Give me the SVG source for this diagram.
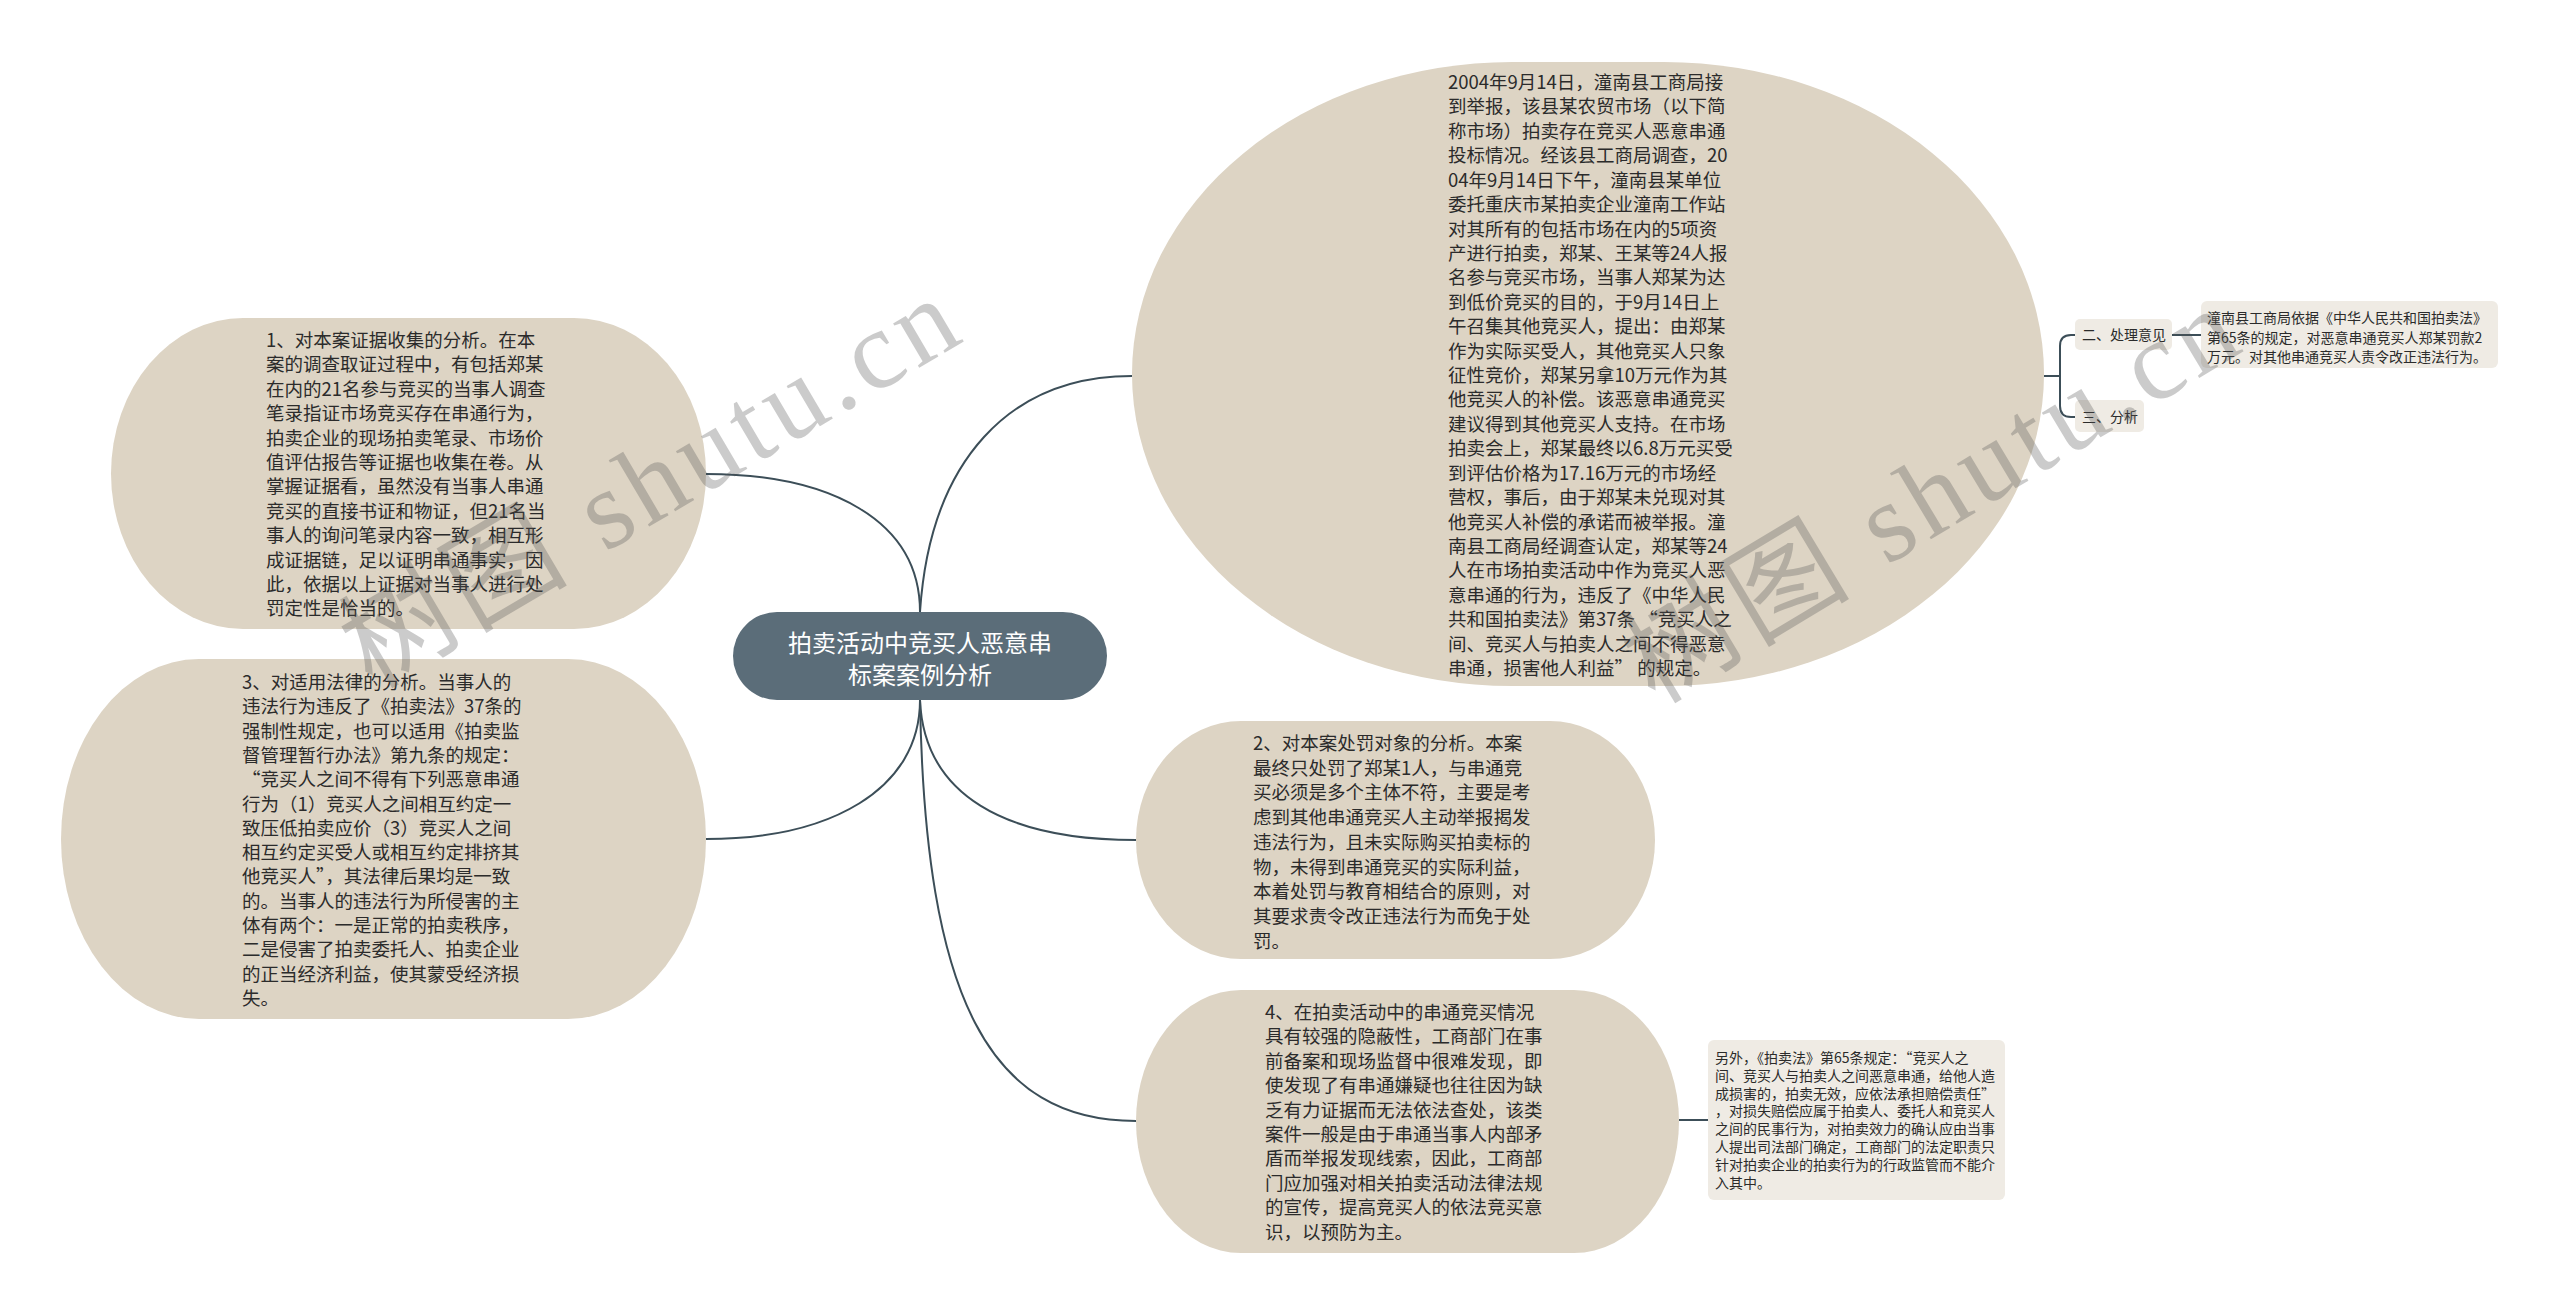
<svg xmlns="http://www.w3.org/2000/svg" width="2560" height="1313" viewBox="0 0 2560 1313">
<style>
.node{fill:#ddd4c4;}
.root{fill:#5b6d79;}
.box{fill:#efebe4;}
.t{font-family:"Noto Sans CJK SC","Noto Sans",sans-serif;font-size:18.5px;fill:#2b2b2b;}
.rt{font-family:"Noto Sans CJK SC","Noto Sans",sans-serif;font-size:24px;fill:#ffffff;text-anchor:middle;}
.s{font-family:"Noto Sans CJK SC","Noto Sans",sans-serif;font-size:14px;fill:#2b2b2b;}
.c{fill:none;stroke:#3c4e58;stroke-width:2;}
.wm{font-family:"Liberation Serif","Noto Sans CJK SC",serif;font-size:112px;fill:#555;opacity:0.3;letter-spacing:6px;}
</style>
<rect width="2560" height="1313" fill="#ffffff"/>
<g id="connectors">
<path class="c" d="M920,612 C930,460 1010,376 1132,376"/>
<path class="c" d="M920,612 C920,520 830,474 706,474"/>
<path class="c" d="M920,700 C920,790 830,839 706,839"/>
<path class="c" d="M920,700 C924,795 1005,840 1136,840"/>
<path class="c" d="M920,700 C925,1000 990,1121 1136,1121"/>
<path class="c" d="M2044,376 L2060,376 M2060,376 L2060,346 Q2060,335 2071,335 L2075,335 M2060,376 L2060,406 Q2060,417 2071,417 L2075,417"/>
<path class="c" d="M2172,335 L2201,335"/>
<path class="c" d="M1679,1120 L1708,1120"/>
</g>
<g id="root">
<rect class="root" x="733" y="612" width="374" height="88" rx="44" ry="44"/>
<text class="rt"><tspan x="920" y="652">拍卖活动中竞买人恶意串</tspan><tspan x="920" y="684">标案案例分析</tspan></text>
</g>
<g id="node-case">
<rect class="node" x="1132" y="62" width="912" height="624" rx="380" ry="312"/>
<text class="t"><tspan x="1448" y="89">2004年9月14日，潼南县工商局接</tspan><tspan x="1448" dy="24.42">到举报，该县某农贸市场（以下简</tspan><tspan x="1448" dy="24.42">称市场）拍卖存在竞买人恶意串通</tspan><tspan x="1448" dy="24.42">投标情况。经该县工商局调查，20</tspan><tspan x="1448" dy="24.42">04年9月14日下午，潼南县某单位</tspan><tspan x="1448" dy="24.42">委托重庆市某拍卖企业潼南工作站</tspan><tspan x="1448" dy="24.42">对其所有的包括市场在内的5项资</tspan><tspan x="1448" dy="24.42">产进行拍卖，郑某、王某等24人报</tspan><tspan x="1448" dy="24.42">名参与竞买市场，当事人郑某为达</tspan><tspan x="1448" dy="24.42">到低价竞买的目的，于9月14日上</tspan><tspan x="1448" dy="24.42">午召集其他竞买人，提出：由郑某</tspan><tspan x="1448" dy="24.42">作为实际买受人，其他竞买人只象</tspan><tspan x="1448" dy="24.42">征性竞价，郑某另拿10万元作为其</tspan><tspan x="1448" dy="24.42">他竞买人的补偿。该恶意串通竞买</tspan><tspan x="1448" dy="24.42">建议得到其他竞买人支持。在市场</tspan><tspan x="1448" dy="24.42">拍卖会上，郑某最终以6.8万元买受</tspan><tspan x="1448" dy="24.42">到评估价格为17.16万元的市场经</tspan><tspan x="1448" dy="24.42">营权，事后，由于郑某未兑现对其</tspan><tspan x="1448" dy="24.42">他竞买人补偿的承诺而被举报。潼</tspan><tspan x="1448" dy="24.42">南县工商局经调查认定，郑某等24</tspan><tspan x="1448" dy="24.42">人在市场拍卖活动中作为竞买人恶</tspan><tspan x="1448" dy="24.42">意串通的行为，违反了《中华人民</tspan><tspan x="1448" dy="24.42">共和国拍卖法》第37条 “竞买人之</tspan><tspan x="1448" dy="24.42">间、竞买人与拍卖人之间不得恶意</tspan><tspan x="1448" dy="24.42">串通，损害他人利益” 的规定。</tspan></text>
</g>
<g id="node-opinion">
<rect class="box" x="2075" y="319" width="97" height="31" rx="5"/>
<text class="s" x="2082" y="340">二、处理意见</text>
</g>
<g id="node-opinion-detail">
<rect class="box" x="2201" y="301" width="297" height="67" rx="6"/>
<text class="s"><tspan x="2207" y="323">潼南县工商局依据《中华人民共和国拍卖法》</tspan><tspan x="2207" dy="19.5">第65条的规定，对恶意串通竞买人郑某罚款2</tspan><tspan x="2207" dy="19.5">万元。对其他串通竞买人责令改正违法行为。</tspan></text>
</g>
<g id="node-analysis">
<rect class="box" x="2075" y="400" width="69" height="32" rx="5"/>
<text class="s" x="2082" y="422">三、分析</text>
</g>
<g id="node-1">
<rect class="node" x="111" y="318" width="595" height="311" rx="132" ry="155.5"/>
<text class="t"><tspan x="266" y="347">1、对本案证据收集的分析。在本</tspan><tspan x="266" dy="24.4">案的调查取证过程中，有包括郑某</tspan><tspan x="266" dy="24.4">在内的21名参与竞买的当事人调查</tspan><tspan x="266" dy="24.4">笔录指证市场竞买存在串通行为，</tspan><tspan x="266" dy="24.4">拍卖企业的现场拍卖笔录、市场价</tspan><tspan x="266" dy="24.4">值评估报告等证据也收集在卷。从</tspan><tspan x="266" dy="24.4">掌握证据看，虽然没有当事人串通</tspan><tspan x="266" dy="24.4">竞买的直接书证和物证，但21名当</tspan><tspan x="266" dy="24.4">事人的询问笔录内容一致，相互形</tspan><tspan x="266" dy="24.4">成证据链，足以证明串通事实，因</tspan><tspan x="266" dy="24.4">此，依据以上证据对当事人进行处</tspan><tspan x="266" dy="24.4">罚定性是恰当的。</tspan></text>
</g>
<g id="node-3">
<rect class="node" x="61" y="659" width="645" height="360" rx="138" ry="180"/>
<text class="t"><tspan x="242" y="689">3、对适用法律的分析。当事人的</tspan><tspan x="242" dy="24.3">违法行为违反了《拍卖法》37条的</tspan><tspan x="242" dy="24.3">强制性规定，也可以适用《拍卖监</tspan><tspan x="242" dy="24.3">督管理暂行办法》第九条的规定：</tspan><tspan x="242" dy="24.3">“竞买人之间不得有下列恶意串通</tspan><tspan x="242" dy="24.3">行为（1）竞买人之间相互约定一</tspan><tspan x="242" dy="24.3">致压低拍卖应价（3）竞买人之间</tspan><tspan x="242" dy="24.3">相互约定买受人或相互约定排挤其</tspan><tspan x="242" dy="24.3">他竞买人”，其法律后果均是一致</tspan><tspan x="242" dy="24.3">的。当事人的违法行为所侵害的主</tspan><tspan x="242" dy="24.3">体有两个：一是正常的拍卖秩序，</tspan><tspan x="242" dy="24.3">二是侵害了拍卖委托人、拍卖企业</tspan><tspan x="242" dy="24.3">的正当经济利益，使其蒙受经济损</tspan><tspan x="242" dy="24.3">失。</tspan></text>
</g>
<g id="node-2">
<rect class="node" x="1136" y="721" width="519" height="238" rx="105" ry="119"/>
<text class="t"><tspan x="1253" y="750">2、对本案处罚对象的分析。本案</tspan><tspan x="1253" dy="24.7">最终只处罚了郑某1人，与串通竞</tspan><tspan x="1253" dy="24.7">买必须是多个主体不符，主要是考</tspan><tspan x="1253" dy="24.7">虑到其他串通竞买人主动举报揭发</tspan><tspan x="1253" dy="24.7">违法行为，且未实际购买拍卖标的</tspan><tspan x="1253" dy="24.7">物，未得到串通竞买的实际利益，</tspan><tspan x="1253" dy="24.7">本着处罚与教育相结合的原则，对</tspan><tspan x="1253" dy="24.7">其要求责令改正违法行为而免于处</tspan><tspan x="1253" dy="24.7">罚。</tspan></text>
</g>
<g id="node-4">
<rect class="node" x="1136" y="990" width="543" height="263" rx="105" ry="131.5"/>
<text class="t"><tspan x="1265" y="1019">4、在拍卖活动中的串通竞买情况</tspan><tspan x="1265" dy="24.4">具有较强的隐蔽性，工商部门在事</tspan><tspan x="1265" dy="24.4">前备案和现场监督中很难发现，即</tspan><tspan x="1265" dy="24.4">使发现了有串通嫌疑也往往因为缺</tspan><tspan x="1265" dy="24.4">乏有力证据而无法依法查处，该类</tspan><tspan x="1265" dy="24.4">案件一般是由于串通当事人内部矛</tspan><tspan x="1265" dy="24.4">盾而举报发现线索，因此，工商部</tspan><tspan x="1265" dy="24.4">门应加强对相关拍卖活动法律法规</tspan><tspan x="1265" dy="24.4">的宣传，提高竞买人的依法竞买意</tspan><tspan x="1265" dy="24.4">识，以预防为主。</tspan></text>
</g>
<g id="node-4-detail">
<rect class="box" x="1708" y="1040" width="297" height="160" rx="6"/>
<text class="s"><tspan x="1715" y="1063">另外，《拍卖法》第65条规定：“竞买人之</tspan><tspan x="1715" dy="17.8">间、竞买人与拍卖人之间恶意串通，给他人造</tspan><tspan x="1715" dy="17.8">成损害的，拍卖无效，应依法承担赔偿责任”</tspan><tspan x="1715" dy="17.8">，对损失赔偿应属于拍卖人、委托人和竞买人</tspan><tspan x="1715" dy="17.8">之间的民事行为，对拍卖效力的确认应由当事</tspan><tspan x="1715" dy="17.8">人提出司法部门确定，工商部门的法定职责只</tspan><tspan x="1715" dy="17.8">针对拍卖企业的拍卖行为的行政监管而不能介</tspan><tspan x="1715" dy="17.8">入其中。</tspan></text>
</g>
<g id="watermarks">
<text class="wm" transform="translate(372,690) rotate(-30.5)">树图 shutu.cn</text>
<text class="wm" transform="translate(1655,705) rotate(-31)">树图 shutu.cn</text>
</g>
</svg>
